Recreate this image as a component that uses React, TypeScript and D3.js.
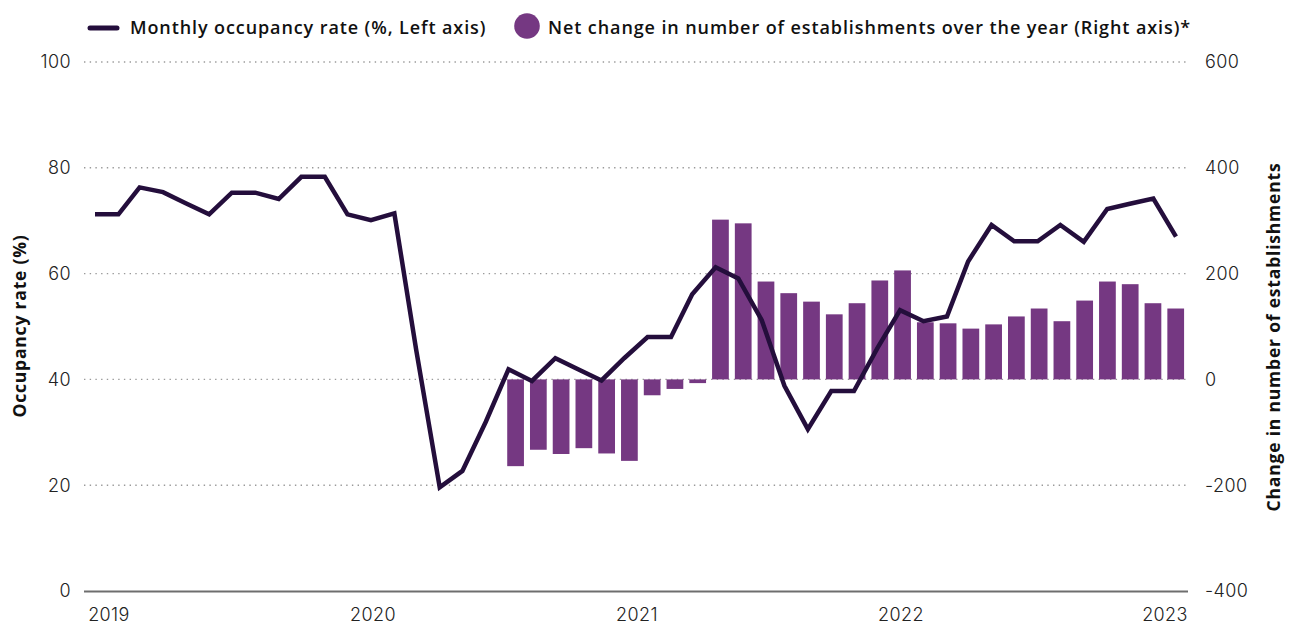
import React from 'react';
import * as d3 from 'd3';

// monthly occupancy rate (%), Jan 2019 - Dec 2022
const occupancy = [
  71.2, 71.2, 76.3, 75.4, 73.3, 71.2, 75.3, 75.3, 74.1, 78.3, 78.3, 71.2,
  70.1, 71.4, 45.5, 19.6, 22.7, 32.0, 41.9, 39.7, 44.0, 41.9, 39.8, 44.0,
  48.0, 48.0, 56.1, 61.2, 59.1, 51.2, 38.8, 30.6, 37.8, 37.8, 45.9, 53.1,
  51.0, 51.9, 62.3, 69.2, 66.1, 66.1, 69.2, 66.0, 72.2, 73.2, 74.2, 67.0,
];

// net change in establishments over the year, Jul 2020 - Dec 2022
const netChange = [
  -164, -133, -141, -130, -140, -154,
  -30, -18, -7, 302, 295, 185, 163, 147, 123, 144, 187, 206,
  108, 106, 96, 104, 119, 134, 110, 149, 185, 180, 144, 134,
];

const months = d3.timeMonth.range(new Date(2019, 0, 1), new Date(2023, 0, 1));
const barMonths = months.slice(18);
const yearLabels = ['2019', '2020', '2021', '2022', '2023'];
const leftTicks = [0, 20, 40, 60, 80, 100];
const rightTicks = [-400, -200, 0, 200, 400, 600];

const W = 1292;
const H = 626;
const LINE_COLOR = '#240e3c';
const BAR_COLOR = '#753882';
const tickFont = 'Inter, "Noto Sans", sans-serif';
const boldFont = '"Open Sans", "Noto Sans", sans-serif';

export default function App() {
  const x = d3.scaleTime()
    .domain([months[0], months[months.length - 1]])
    .range([95, 1176]);

  const fmt = d3.timeFormat('%Y-%m');
  const xBar = d3.scaleBand()
    .domain(barMonths.map(d => fmt(d)))
    .range([504.2, 1187.1])
    .paddingInner(0.265)
    .paddingOuter(0.1325);

  const xYear = d3.scalePoint().domain(yearLabels).range([109, 1165]);

  const yL = d3.scaleLinear().domain([0, 100]).range([591, 62]);
  const yR = d3.scaleLinear().domain([-400, 600]).range([591, 62]);

  const line = d3.line<number>()
    .x((_, i) => x(months[i]))
    .y(d => yL(d));

  const tickProps = {
    fontFamily: tickFont, fontWeight: 300, fontSize: 18, letterSpacing: 0.4, fill: '#222',
  };
  const titleProps = {
    fontFamily: boldFont, fontWeight: 700, fontSize: 17.5, letterSpacing: 0.8, fill: '#111',
  };
  const legendProps = {
    fontFamily: boldFont, fontWeight: 600, fontSize: 18, letterSpacing: 0.9, fill: '#111',
  };

  return (
    <div style={{ position: 'absolute', left: 0, top: 0 }}>
      <svg width={W} height={H} style={{ display: 'block', background: '#fff' }}>
        {/* gridlines */}
        {leftTicks.slice(1).map(t => (
          <line key={t} x1={84} x2={1188} y1={yL(t)} y2={yL(t)}
            stroke="#9a9a9a" strokeWidth={1.4} strokeDasharray="1.4 4.3" />
        ))}
        <line x1={84} x2={1188} y1={yL(0) + 0.5} y2={yL(0) + 0.5} stroke="#6e6e6e" strokeWidth={2} />

        {/* bars */}
        {netChange.map((v, i) => {
          const key = fmt(barMonths[i]);
          const y0 = yR(0);
          const y1 = yR(v);
          return (
            <rect key={key} x={xBar(key)} width={xBar.bandwidth()}
              y={Math.min(y0, y1)} height={Math.abs(y1 - y0)} fill={BAR_COLOR} />
          );
        })}

        {/* occupancy line */}
        <path d={line(occupancy) || ''} fill="none" stroke={LINE_COLOR} strokeWidth={4.5} strokeLinejoin="miter" />

        {/* left ticks */}
        {leftTicks.map(t => (
          <text key={t} x={71} y={yL(t)} dy="0.36em" textAnchor="end" {...tickProps}>{t}</text>
        ))}
        {/* right ticks */}
        {rightTicks.map(t => (
          <text key={t} x={1205} y={yR(t)} dy="0.36em" textAnchor="start" {...tickProps}>{t}</text>
        ))}
        {/* x labels */}
        {yearLabels.map(l => (
          <text key={l} x={xYear(l)} y={621} textAnchor="middle" {...tickProps}>{l}</text>
        ))}

        {/* axis titles */}
        <text transform="translate(26,326) rotate(-90)" textAnchor="middle" {...titleProps}>Occupancy rate (%)</text>
        <text transform="translate(1280,337) rotate(-90)" textAnchor="middle" {...titleProps}>Change in number of establishments</text>

        {/* legend */}
        <line x1={90} x2={117} y1={28} y2={28} stroke={LINE_COLOR} strokeWidth={5} strokeLinecap="round" />
        <text x={130} y={34} {...legendProps}>Monthly occupancy rate (%, Left axis)</text>
        <circle cx={527} cy={26} r={12.8} fill={BAR_COLOR} />
        <text x={548} y={34} {...legendProps}>Net change in number of establishments over the year (Right axis)*</text>
      </svg>
    </div>
  );
}
